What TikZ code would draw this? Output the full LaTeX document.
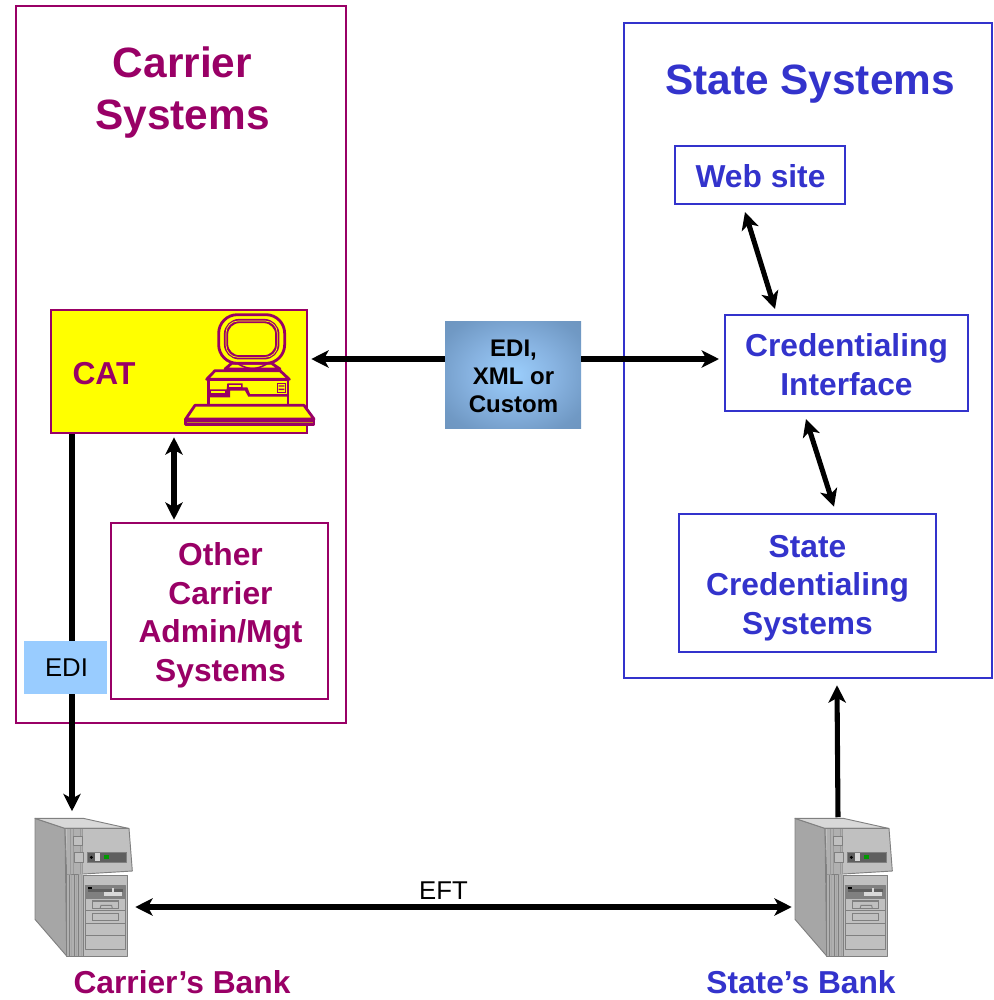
\documentclass[tikz,border=0pt]{standalone}
\usepackage{fontspec}
\setmainfont{Liberation Sans}
\usetikzlibrary{arrows.meta,calc}
\definecolor{pur}{HTML}{990066}
\definecolor{blu}{HTML}{3333CC}
\definecolor{edib}{HTML}{99CCFF}
\definecolor{catyel}{HTML}{FFFF00}
\definecolor{keyline}{HTML}{C08020}
\definecolor{sfront}{HTML}{C0C0C0}
\definecolor{sside}{HTML}{A6A6A6}
\definecolor{stop}{HTML}{D8D8D8}
\definecolor{sband}{HTML}{B0B0B0}
\definecolor{sline}{HTML}{808080}
\definecolor{sdark}{HTML}{5F5F5F}
\definecolor{sgreen}{HTML}{009900}
\pgfdeclareradialshading{boxshade}{\pgfpoint{0bp}{0bp}}{rgb(0bp)=(0.61,0.81,0.99); rgb(16bp)=(0.53,0.70,0.88); rgb(30bp)=(0.44,0.60,0.77); rgb(50bp)=(0.41,0.55,0.70)}
\tikzset{
  frame/.style={draw,rectangle,inner sep=0pt,align=center,line width=1.9pt},
  txt/.style={align=center,inner sep=0pt,font=\bfseries\fontsize{23.8}{28.9}\selectfont},
  title/.style={align=center,inner sep=0pt,font=\bfseries\fontsize{31.8}{39}\selectfont},
  link/.style={line width=3.8pt,black},
  both/.style={link,{Stealth[length=13pt,width=13pt,inset=3.5pt]}-{Stealth[length=13pt,width=13pt,inset=3.5pt]}},
  one/.style={link,-{Stealth[length=13pt,width=13pt,inset=3.5pt]}},
  oneback/.style={link,{Stealth[length=13pt,width=13pt,inset=3.5pt]}-},
  sv/.style={draw=#1,line width=.7pt,line join=round},
  pc/.style={draw=pur,line width=2.1pt,line join=round}
}
\newcommand{\serverart}[2]{%
\begin{scope}[shift={(#1,#2)},x=.25pt,y=-.25pt]
  \filldraw[sv=sline,fill=sside] (45,55)--(135,85)--(140,468)--(45,358)--cycle;
  \filldraw[sv=sline,fill=stop] (45,55)--(190,55)--(325,85)--(135,85)--cycle;
  \filldraw[sv=sline,fill=sfront] (140,225)--(323,225)--(323,468)--(140,468)--cycle;
  \filldraw[sv=sline,fill=sfront] (135,85)--(327,85)--(337,213)--(140,225)--cycle;
  \fill[sband] (140,225) rectangle (190,468);
  \fill[sband] (140,88) rectangle (190,222);
  \foreach \xx in {148,162,176,189}{\draw[sline,line width=.6pt] (\xx,225)--(\xx,468);}
  \foreach \xx in {155,169,183}{\draw[sline!70!white,line width=.4pt] (\xx,225)--(\xx,468);}
  \foreach \xx in {150,160,180,188}{\draw[sline!80!white,line width=.5pt] (\xx,88)--(\xx,222);}
  \filldraw[sv=sline,fill=sfront] (160,108) rectangle (187,137);
  \filldraw[sv=sline,fill=sfront] (162,157) rectangle (189,187);
  \filldraw[sv=sline,fill=sdark] (203,156) rectangle (320,187);
  \fill[black] (214,172) circle (5);
  \fill[stop] (225,159) rectangle (240,184);
  \fill[sgreen] (252,165) rectangle (267,178);
  \filldraw[sv=sline,fill=sfront] (197,257) rectangle (315,448);
  \fill[sline] (197,257) rectangle (315,295);
  \draw[sline,line width=.7pt] (197,295)--(315,295) (197,332)--(315,332) (197,370)--(315,370) (197,407)--(315,407);
  \fill[sdark] (205,268) rectangle (308,275);
  \fill[stop] (253,275) rectangle (305,288);
  \fill[stop] (275,263) rectangle (283,288);
  \fill[black] (205,262) rectangle (215,266);
  \draw[sline,line width=.8pt] (217,303) rectangle (296,326);
  \draw[sline,line width=.7pt] (240,326)--(243,316)--(275,316)--(277,326);
  \draw[sline,line width=.8pt] (217,340) rectangle (296,362);
\end{scope}}
\newcommand{\pcart}{%
\begin{scope}[shift={(170,300)},x=.25pt,y=-.25pt]
  \filldraw[pc,fill=catyel] (165,207)--(185,190)--(305,190)--(330,207)--cycle;
  \draw[pc,line width=1.2pt] (205,192) .. controls (235,210) and (260,210) .. (290,192);
  \filldraw[pc,fill=catyel,rounded corners=14] (146,44) rectangle (344,190);
  \draw[pur,rounded corners=10,line width=3.2pt] (168,63) rectangle (322,172);
  \draw[catyel,rounded corners=9,line width=.5pt] (168,63) rectangle (322,172);
  \filldraw[pc,fill=catyel] (110,238)--(135,212)--(330,212)--(358,238)--cycle;
  \filldraw[pc,fill=catyel] (116,238) rectangle (354,316);
  \fill[pur] (118,268) -- (170,268) -- (172,250) -- (218,250) -- (218,262) -- (232,262) -- (240,282) -- (352,282) -- (352,290) -- (235,290) -- (225,272) -- (180,272) -- (180,292) -- (118,292) -- cycle;
  \fill[catyel] (178,256) rectangle (212,260);
  \fill[catyel] (122,274) rectangle (165,280);
  \fill[catyel] (120,294) rectangle (350,305);
  \filldraw[pur,fill=catyel,line width=.8pt] (322,250) rectangle (347,277);
  \fill[pur] (326,256) rectangle (343,260) (326,266) rectangle (343,270);
  \filldraw[pc,fill=catyel] (75,316)--(402,316)--(432,357)--(47,357)--cycle;
  \filldraw[pc,fill=pur] (47,357) rectangle (432,374);
  \draw[line width=.7pt,keyline] (52,367)--(428,367);
\end{scope}}
\begin{document}
\begin{tikzpicture}[x=.75pt,y=-.75pt]
\useasboundingbox (0,0) rectangle (993,1000);
% main containers
\node[frame,draw=pur,minimum width=247.5pt,minimum height=537.75pt] (carrier) at (181,364.5) {};
\node[frame,draw=blu,minimum width=276pt,minimum height=491.25pt] (state) at (808,350.5) {};
\node[title,text=pur] (carriertitle) at (182.5,93) {Carrier\\Systems};
\node[title,text=blu] (statetitle) at (810,84) {State Systems};
% blue boxes
\node[frame,draw=blu,line width=1.5pt,minimum width=127.5pt,minimum height=43.5pt] (web) at (760,175) {};
\node[txt,text=blu] (webtext) at (760.5,176) {Web site};
\node[frame,draw=blu,line width=1.5pt,minimum width=182.25pt,minimum height=72pt] (cred) at (846.5,363) {};
\node[txt,text=blu] (credtext) at (846.5,364.5) {Credentialing\\Interface};
\node[frame,draw=blu,minimum width=192.75pt,minimum height=103.5pt] (scs) at (807.5,583) {};
\node[txt,text=blu] (scstext) at (807.5,588) {State\\Credentialing\\Systems};
% carrier boxes
\node[frame,draw=pur,fill=catyel,minimum width=192pt,minimum height=92.25pt] (cat) at (179,371.5) {};
\pcart
\node[txt,text=pur] (catlabel) at (104,374) {CAT};
\node[frame,draw=pur,minimum width=162.75pt,minimum height=132pt] (other) at (219.5,611) {};
\node[txt,text=pur] (othertext) at (220.5,615.5) {Other\\Carrier\\Admin/Mgt\\Systems};
% servers
\node[minimum width=73.5pt,minimum height=104.25pt,inner sep=0pt] (cbank) at (84,887) {};
\node[minimum width=73.5pt,minimum height=104.25pt,inner sep=0pt] (sbank) at (844,887) {};
\serverart{20}{800}
\serverart{780}{800}
% connectors
\draw[one] ([shift={(-107,0)}]cat.south) -- ([shift={(-12,-6)}]cbank.north);
\node[fill=edib,inner sep=0pt,minimum width=62.25pt,minimum height=39.75pt] (edi) at (65.5,667.5) {};
\node[inner sep=0pt,font=\fontsize{19.3}{23}\selectfont] (editext) at (66.5,668) {EDI};
\node[inner sep=0pt,minimum width=102pt,minimum height=80.25pt,shading=boxshade] (fmt) at (513,374.5) {};
\node[inner sep=0pt,align=center,font=\bfseries\fontsize{18}{21}\selectfont] (fmttext) at (513.5,376) {EDI,\\XML or\\Custom};
\draw[oneback] ([shift={(3,-12.5)}]cat.east) -- ([shift={(0,-15.5)}]fmt.west);
\draw[one] ([shift={(0,-15.5)}]fmt.east) -- ([shift={(-5,-4)}]cred.west);
\draw[both] ([shift={(-15,7)}]web.south) -- ([shift={(-71.5,-5)}]cred.north);
\draw[both] ([shift={(-40.5,7)}]cred.south) -- ([shift={(26.5,-6)}]scs.north);
\draw[both] ([shift={(-5,3)}]cat.south) -- ([shift={(-45.5,-2)}]other.north);
\draw[one] ([shift={(-6,0)}]sbank.north) -- ([shift={(29,6)}]state.south);
\draw[both] ([shift={(2,20)}]cbank.east) -- node[above=3.5pt,inner sep=0pt,font=\fontsize{19.3}{23}\selectfont,pos=.4695] (eft) {EFT} ([shift={(-3,20)}]sbank.west);
% bank labels
\node[txt,text=pur] (cbl) at (182,982) {Carrier’s Bank};
\node[txt,text=blu] (sbl) at (801,982) {State’s Bank};
\end{tikzpicture}
\end{document}
